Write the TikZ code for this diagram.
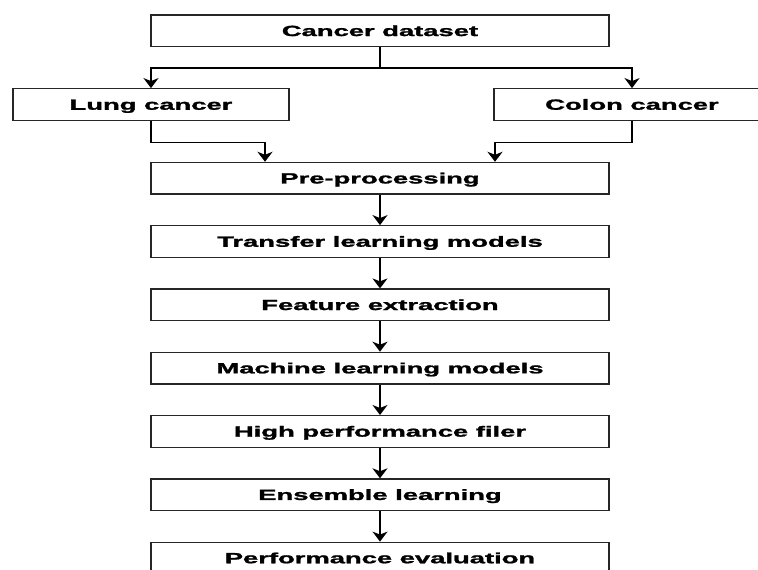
\documentclass[tikz,border=0pt]{standalone}
\usepackage{fontspec}
\setmainfont{Liberation Sans}[BoldFeatures={FakeBold=1.3}]
\usetikzlibrary{arrows.meta}
\newcommand{\wtxt}[1]{\scalebox{1.85}[1]{\fontsize{14.8}{16}\selectfont\bfseries #1}}
\tikzset{
  box/.style={draw=black!85, line width=1.3pt, minimum height=31.5pt, inner sep=0pt, fill=white, text height=10.5pt, text depth=0pt},
  wide/.style={box, minimum width=458pt},
  side/.style={box, minimum width=276pt},
  arr/.style={draw=black, line width=1.8pt, -{Stealth[length=10pt,width=15pt,inset=3pt]}},
}
\begin{document}
\begin{tikzpicture}[x=1pt,y=-1pt]
\useasboundingbox (0,0) rectangle (758,570);
\clip (0,0) rectangle (758,570);
\fill[white] (0,0) rectangle (758,570);
\node[wide] (cd) at (380,30.8) {\wtxt{Cancer dataset}};
\node[side] (lung) at (151,104.5) {\wtxt{Lung cancer}};
\node[side] (colon) at (632,104.5) {\wtxt{Colon cancer}};
\node[wide] (pre) at (380,178.2) {\wtxt{Pre-processing}};
\node[wide] (tl) at (380,241.5) {\wtxt{Transfer learning models}};
\node[wide] (fe) at (380,304.8) {\wtxt{Feature extraction}};
\node[wide] (ml) at (380,368.1) {\wtxt{Machine learning models}};
\node[wide] (hp) at (380,431.4) {\wtxt{High performance filer}};
\node[wide] (el) at (380,494.7) {\wtxt{Ensemble learning}};
\node[wide] (pe) at (380,558) {\wtxt{Performance evaluation}};
\draw[arr] (cd.south) -- ++(0,21) -| (lung.north);
\draw[arr] (cd.south) -- ++(0,21) -| (colon.north);
\draw[arr] (lung.south) -- ++(0,21.5) -| ([xshift=-115pt]pre.north);
\draw[arr] (colon.south) -- ++(0,21.5) -| ([xshift=115pt]pre.north);
\draw[arr] (pre) -- (tl);
\draw[arr] (tl) -- (fe);
\draw[arr] (fe) -- (ml);
\draw[arr] (ml) -- (hp);
\draw[arr] (hp) -- (el);
\draw[arr] (el) -- (pe);
\end{tikzpicture}
\end{document}
